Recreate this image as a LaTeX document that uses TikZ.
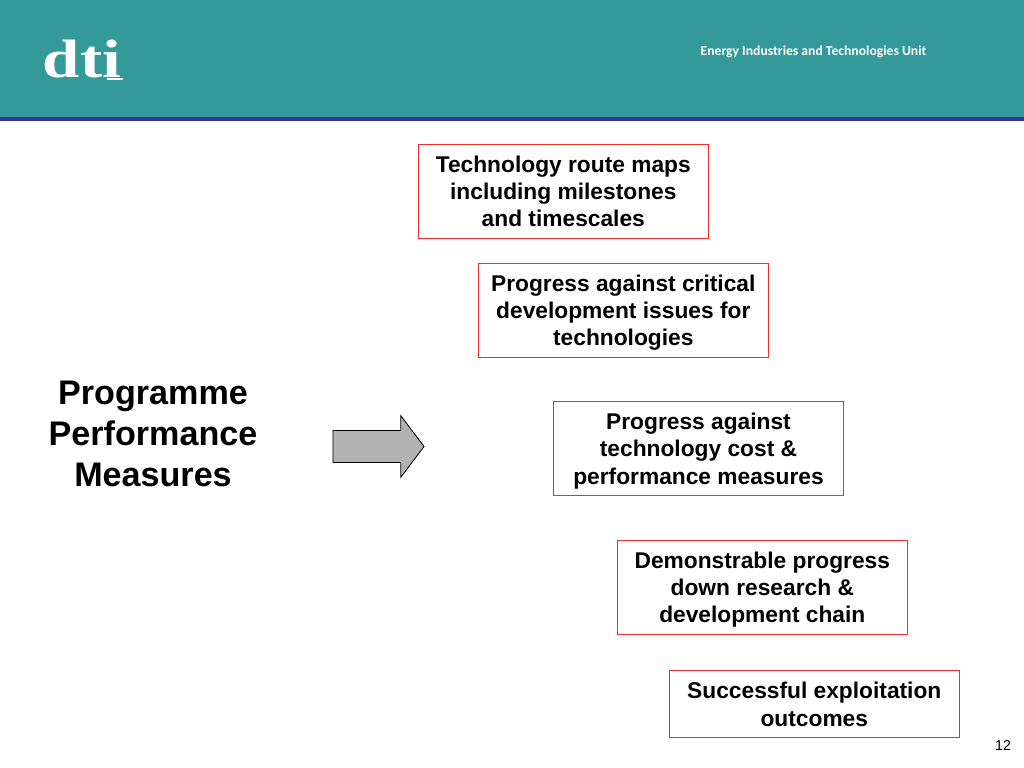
\documentclass[tikz,border=0pt]{standalone}
\usepackage{fontspec}
\setmainfont{Liberation Sans}
\newfontfamily\logofont{Liberation Serif}
\newfontfamily\unitfont{Carlito}
\usepackage{xcolor}
\usetikzlibrary{positioning,shapes.arrows}
\definecolor{headteal}{HTML}{339999}
\definecolor{headblue}{HTML}{333399}
\definecolor{boxred}{HTML}{EE3030}
\newcommand{\firstline}{\rule{0pt}{17.4pt}}

\begin{document}
\begin{tikzpicture}[x=0.703125pt, y=-0.703125pt,
  measure/.style={draw=boxred, line width=0.8pt, fill=white, align=center,
              minimum width=203.6pt, inner xsep=0pt, inner ysep=0pt,
              execute at end node=\strut,
              font=\fontsize{16}{19.2}\selectfont\bfseries},
  title/.style={align=center, font=\fontsize{24}{28.8}\selectfont\bfseries}]
\useasboundingbox (0,0) rectangle (1024,768);
\fill[headteal] (0,0) rectangle (1024,117);
\fill[headblue] (0,117) rectangle (1024,121);
% logo
\node[anchor=center, xscale=1.24, text=white, font=\logofont\fontsize{38}{38}\selectfont\bfseries] (logo) at (82,59) {dti};
\coordinate (logoa) at (107,79);
\coordinate (logob) at (123,79);
\draw[white, line width=1pt] (logoa) -- (logob);
\node[text=white, font=\unitfont\fontsize{9.6}{11}\selectfont\bfseries] (unit) at (813.5,51.5) {Energy Industries and Technologies Unit};
% measures
\node[measure, minimum height=66pt] (route) at (563.3,191.3) {\firstline Technology route maps\\including milestones\\and timescales};
\node[measure, minimum height=66pt] (issues) at (623.3,310.3) {\firstline Progress against critical\\development issues for\\technologies};
\node[measure, minimum height=66pt] (costs) at (698.5,448.5) {\firstline Progress against\\technology cost \&\\performance measures};
\node[measure, minimum height=66pt] (chain) at (762.3,587.3) {\firstline Demonstrable progress\\down research \&\\development chain};
\node[measure, minimum height=47pt] (outcomes) at (814.3,704.3) {\firstline Successful exploitation\\outcomes};
\node[title] (programme) at (153,434) {Programme\\Performance\\Measures};
\node[single arrow, draw=black, fill=black!30, line width=0.6pt, inner xsep=0pt, inner ysep=10.9pt,
  minimum height=64pt, single arrow head extend=10.5pt,
  single arrow tip angle=106] (pointer) at (372.5,446.5) {};
\node[font=\fontsize{10}{12}\selectfont] (page) at (1003,746) {12};
\end{tikzpicture}
\end{document}
